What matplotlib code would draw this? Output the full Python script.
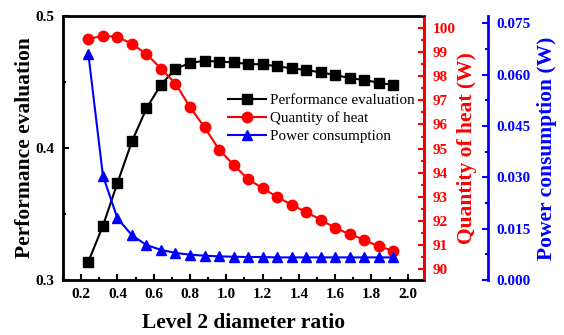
import matplotlib
matplotlib.use("Agg")
import matplotlib.pyplot as plt
from matplotlib.ticker import MultipleLocator, FormatStrFormatter

plt.rcParams["font.family"] = ["Liberation Serif", "DejaVu Serif"]

ratio = [0.24, 0.32, 0.40, 0.48, 0.56, 0.64, 0.72, 0.80, 0.88, 0.96, 1.04,
         1.12, 1.20, 1.28, 1.36, 1.44, 1.52, 1.60, 1.68, 1.76, 1.84, 1.92]
performance = [0.314, 0.341, 0.3735, 0.405, 0.430, 0.448, 0.460, 0.4644,
               0.4661, 0.4654, 0.4649, 0.4636, 0.4634, 0.4619, 0.4604, 0.4591,
               0.4573, 0.4553, 0.4530, 0.4515, 0.4495, 0.4477]
heat = [99.54, 99.69, 99.63, 99.35, 98.92, 98.32, 97.70, 96.72, 95.89, 94.96,
        94.33, 93.73, 93.36, 93.00, 92.67, 92.37, 92.05, 91.71, 91.45, 91.22,
        90.94, 90.77]
power = [0.0659, 0.0305, 0.0180, 0.0131, 0.0102, 0.0088, 0.0079, 0.0074,
         0.0071, 0.0069, 0.0068, 0.0067, 0.0067, 0.0066, 0.0066, 0.0066,
         0.0066, 0.0066, 0.0066, 0.0066, 0.0066, 0.0066]

BLACK, RED, BLUE = "black", "#ff0000", "#0000ff"

fig = plt.figure(figsize=(5.64, 3.35), dpi=100)
ax1 = fig.add_axes([0.1117, 0.1642, 0.6401, 0.7880])
ax2 = ax1.twinx()
ax3 = ax1.twinx()
ax3.spines["right"].set_position(("axes", 1.177))

l1, = ax1.plot(ratio, performance, color=BLACK, marker="s", markersize=6.5,
               linewidth=1.5, label="Performance evaluation")
l2, = ax2.plot(ratio, heat, color=RED, marker="o", markersize=7.5,
               linewidth=1.5, label="Quantity of heat")
l3, = ax3.plot(ratio, power, color=BLUE, marker="^", markersize=7.5,
               linewidth=1.5, label="Power consumption")

ax1.set_xlim(0.1, 2.09)
ax1.set_ylim(0.3, 0.5)
ax2.set_ylim(89.55, 100.5)
ax3.set_ylim(0.0, 0.0771)

ax1.xaxis.set_major_locator(MultipleLocator(0.2))
ax1.xaxis.set_minor_locator(MultipleLocator(0.1))
ax1.xaxis.set_major_formatter(FormatStrFormatter("%.1f"))
ax1.yaxis.set_major_locator(MultipleLocator(0.1))
ax1.yaxis.set_minor_locator(MultipleLocator(0.05))
ax1.yaxis.set_major_formatter(FormatStrFormatter("%.1f"))
ax2.yaxis.set_major_locator(MultipleLocator(1))
ax2.yaxis.set_minor_locator(MultipleLocator(0.5))
ax3.yaxis.set_major_locator(MultipleLocator(0.015))
ax3.yaxis.set_minor_locator(MultipleLocator(0.0075))
ax3.yaxis.set_major_formatter(FormatStrFormatter("%.3f"))

for sp in ax1.spines.values():
    sp.set_linewidth(2)
ax2.spines["right"].set_color(RED)
ax2.spines["right"].set_linewidth(2)
ax3.spines["right"].set_color(BLUE)
ax3.spines["right"].set_linewidth(2)

tick_kw = dict(direction="in", labelsize=11, width=1.5)
ax1.tick_params(axis="both", which="major", length=4, pad=6, **tick_kw)
ax1.tick_params(axis="both", which="minor", length=2.5, direction="in", width=1.5)
ax1.tick_params(axis="y", which="both", right=False)
ax2.tick_params(axis="y", which="major", length=4, pad=6, colors=RED, **tick_kw)
ax2.tick_params(axis="y", which="minor", length=2.5, direction="in", width=1.5, colors=RED)
ax3.tick_params(axis="y", which="major", length=4, pad=6, colors=BLUE, **tick_kw)
ax3.tick_params(axis="y", which="minor", length=2.5, direction="in", width=1.5, colors=BLUE)

for ax in (ax1, ax2, ax3):
    for lab in ax.get_xticklabels() + ax.get_yticklabels():
        lab.set_fontweight("bold")

ax1.set_xlabel("Level 2 diameter ratio", fontsize=15.5, fontweight="bold")
ax1.set_ylabel("Performance evaluation", fontsize=15.5, fontweight="bold")
ax2.set_ylabel("Quantity of heat (W)", fontsize=15.5, fontweight="bold", color=RED)
ax3.set_ylabel("Power consumption (W)", fontsize=15.5, fontweight="bold", color=BLUE)
ax1.xaxis.set_label_coords(0.5, -0.125)
ax1.yaxis.set_label_coords(-0.105, 0.5)
ax2.yaxis.set_label_coords(1.118, 0.5)
ax3.yaxis.set_label_coords(1.340, 0.5)
for lab in (ax1.yaxis.label, ax2.yaxis.label, ax3.yaxis.label):
    lab.set_verticalalignment("center")
ax1.xaxis.label.set_verticalalignment("top")

ax1.legend([l1, l2, l3], [l.get_label() for l in (l1, l2, l3)],
           loc="upper left", bbox_to_anchor=(0.44, 0.73), frameon=False,
           fontsize=10.9, handlelength=2.5, labelspacing=0.3,
           handletextpad=0.3, borderaxespad=0)

fig.savefig("out.png", dpi=100, facecolor="white")
